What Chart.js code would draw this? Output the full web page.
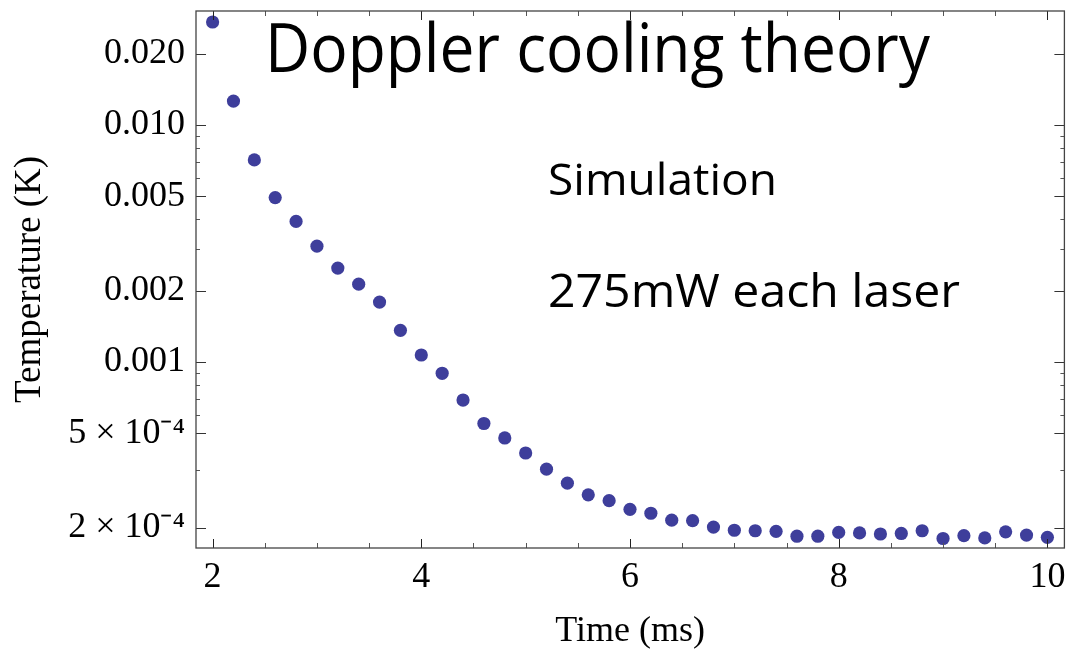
<!DOCTYPE html>
<html>
<head>
<meta charset="utf-8">
<script src="https://cdn.jsdelivr.net/npm/chart.js@4.4.1/dist/chart.umd.min.js"></script>
<style>
  html, body { margin: 0; padding: 0; background: #fff; }
  #wrap { width: 1071px; height: 655px; }
  canvas { display: block; }
</style>
</head>
<body>
<div id="wrap"><canvas id="c" width="1071" height="655"></canvas></div>
<script>
// ---- data ----
const times = [2.0, 2.2, 2.4, 2.6, 2.8, 3.0, 3.2, 3.4, 3.6, 3.8,
               4.0, 4.2, 4.4, 4.6, 4.8, 5.0, 5.2, 5.4, 5.6, 5.8,
               6.0, 6.2, 6.4, 6.6, 6.8, 7.0, 7.2, 7.4, 7.6, 7.8,
               8.0, 8.2, 8.4, 8.6, 8.8, 9.0, 9.2, 9.4, 9.6, 9.8, 10.0];
const temperatures = [0.0272, 0.01262, 0.00712, 0.00494, 0.00392, 0.00308, 0.00249, 0.00213, 0.00179, 0.00136,
                      0.00107, 0.000896, 0.000691, 0.000550, 0.000478, 0.000413, 0.000353, 0.000308, 0.000275, 0.000260,
                      0.000239, 0.000230, 0.000215, 0.000214, 0.000201, 0.000195, 0.000194, 0.000193, 0.000184, 0.000184,
                      0.000191, 0.000190, 0.000188, 0.000189, 0.000194, 0.000180, 0.000185, 0.000181, 0.000192, 0.000186, 0.000182];
const xMajorTicks = [2, 4, 6, 8, 10];
const xMinorTicks = [2.5, 3, 3.5, 4.5, 5, 5.5, 6.5, 7, 7.5, 8.5, 9, 9.5];
const yMajorTicks = [0.02, 0.01, 0.005, 0.002, 0.001, 0.0005, 0.0002];
const yMajorLabels = ["0.020", "0.010", "0.005", "0.002", "0.001", "5 \u00D7 10\u207B\u2074", "2 \u00D7 10\u207B\u2074"];
const yMinorTicks = [0.009, 0.008, 0.007, 0.006, 0.004, 0.003, 0.0009, 0.0008, 0.0007, 0.0006, 0.00035];
const xLabel = "Time (ms)";
const yLabel = "Temperature (K)";
const titleText = "Doppler cooling theory";
const noteLines = ["Simulation", "275mW each laser"];

const serif = "'Liberation Serif', 'Times New Roman', serif";
const casual = "'Comic Sans MS', 'Open Sans', sans-serif";

// frame, inward ticks and in-plot text
const framePlugin = {
  id: 'frame',
  afterDatasetsDraw(chart) {
    const {ctx, chartArea: a, scales: {x, y}} = chart;
    ctx.save();
    ctx.lineWidth = 1;
    const tick = (px, len, color) => {
      ctx.strokeStyle = color;
      ctx.beginPath();
      ctx.moveTo(px, a.bottom); ctx.lineTo(px, a.bottom - len);
      ctx.moveTo(px, a.top); ctx.lineTo(px, a.top + len);
      ctx.stroke();
    };
    const ytick = (py, len, color) => {
      ctx.strokeStyle = color;
      ctx.beginPath();
      ctx.moveTo(a.left, py); ctx.lineTo(a.left + len, py);
      ctx.moveTo(a.right, py); ctx.lineTo(a.right - len, py);
      ctx.stroke();
    };
    xMajorTicks.forEach(v => tick(Math.round(x.getPixelForValue(v)) + 0.5, 9, '#222'));
    xMinorTicks.forEach(v => tick(Math.round(x.getPixelForValue(v)) + 0.5, 5, '#555'));
    yMajorTicks.forEach(v => ytick(Math.round(y.getPixelForValue(v)) + 0.5, 10, '#333'));
    yMinorTicks.forEach(v => ytick(Math.round(y.getPixelForValue(v)) + 0.5, 4, '#555'));
    ctx.strokeStyle = '#444';
    ctx.lineWidth = 1.3;
    ctx.strokeRect(a.left, a.top, a.right - a.left, a.bottom - a.top);
    ctx.restore();
  },
  afterDraw(chart) {
    const {ctx, chartArea: a} = chart;
    const drawFit = (text, size, left, right, baseline) => {
      ctx.save();
      ctx.font = size + 'px ' + casual;
      ctx.fillStyle = '#000';
      ctx.textBaseline = 'alphabetic';
      ctx.textAlign = 'left';
      const w = ctx.measureText(text).width;
      const sx = (right - left) / w;
      ctx.translate(left, baseline);
      ctx.scale(sx, 1);
      ctx.fillText(text, 0, 0);
      ctx.restore();
    };
    drawFit(titleText, 68, a.left + 69, a.left + 734, a.top + 61);
    drawFit(noteLines[0], 44, a.left + 352, a.left + 581, a.top + 184);
    drawFit(noteLines[1], 46, a.left + 352, a.left + 764, a.top + 296);
  }
};

new Chart(document.getElementById('c'), {
  type: 'scatter',
  data: {
    datasets: [{
      data: times.map((t, i) => ({x: t, y: temperatures[i]})),
      pointRadius: 6.6,
      pointHoverRadius: 6.6,
      backgroundColor: 'rgb(62,62,155)',
      borderWidth: 0
    }]
  },
  options: {
    responsive: false,
    animation: false,
    events: [],
    layout: { padding: { left: 0, right: 6, top: 11, bottom: 0 } },
    plugins: { legend: { display: false }, tooltip: { enabled: false } },
    scales: {
      x: {
        type: 'linear',
        min: 1.841,
        max: 10.163,
        grid: { display: false, drawTicks: false },
        border: { display: false },
        afterBuildTicks: s => { s.ticks = xMajorTicks.map(v => ({value: v})); },
        afterFit: s => { s.height = 107; s.paddingLeft = 0; s.paddingRight = 0; },
        ticks: {
          color: '#000',
          font: { family: serif, size: 36 },
          padding: 8,
          maxRotation: 0,
          autoSkip: false,
          callback: v => String(v)
        },
        title: {
          display: true,
          text: xLabel,
          color: '#000',
          font: { family: serif, size: 36 },
          padding: { top: 0, bottom: 2 }
        }
      },
      y: {
        type: 'logarithmic',
        min: 0.0001641,
        max: 0.03027,
        grid: { display: false, drawTicks: false },
        border: { display: false },
        afterBuildTicks: s => { s.ticks = yMajorTicks.map(v => ({value: v})); },
        afterFit: s => { s.width = 196; s.paddingTop = 0; s.paddingBottom = 0; },
        ticks: {
          color: '#000',
          font: { family: serif, size: 36 },
          padding: 11,
          autoSkip: false,
          callback: (v) => {
            const i = yMajorTicks.findIndex(t => Math.abs(t - v) / t < 1e-6);
            return i >= 0 ? yMajorLabels[i] : '';
          }
        },
        title: {
          display: true,
          text: yLabel,
          color: '#000',
          font: { family: serif, size: 37 },
          padding: { top: 8, bottom: 0 }
        }
      }
    }
  },
  plugins: [framePlugin]
});
</script>
</body>
</html>
